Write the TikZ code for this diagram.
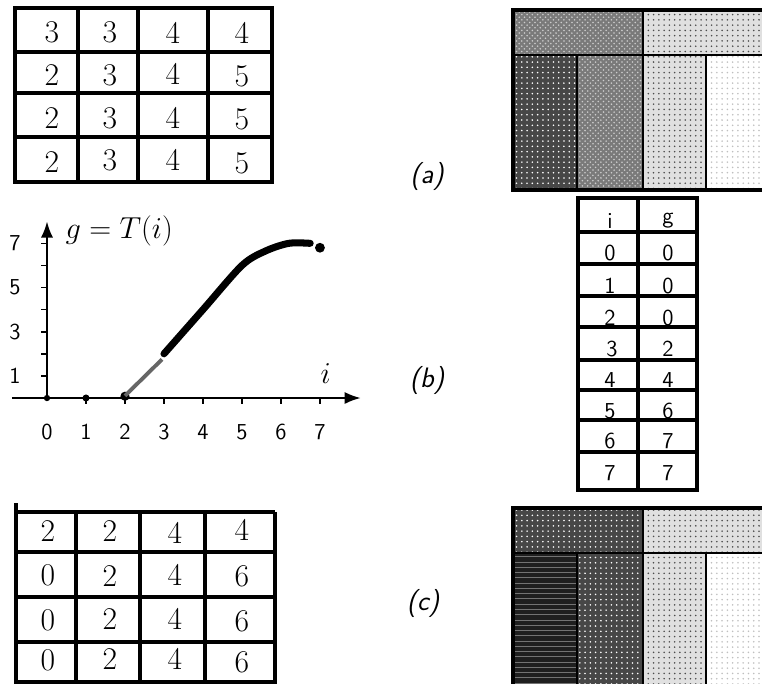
\documentclass[tikz,border=0pt]{standalone}
\usepackage{tikz}
\usetikzlibrary{arrows.meta,positioning,patterns}

\begin{document}
\begin{tikzpicture}[
    x=0.02cm, y=-0.02cm,
    tabline/.style={line width=2pt},
    imgframe/.style={line width=2.4pt},
    sepline/.style={line width=1.4pt},
    num/.style={font=\fontsize{18}{20}\selectfont, inner sep=0pt},
    ignum/.style={font=\sffamily\fontsize{13}{15}\selectfont, inner sep=0pt},
    axlbl/.style={font=\sffamily\fontsize{13}{15}\selectfont, inner sep=0pt},
    figlbl/.style={font=\sffamily\itshape\fontsize{16}{18}\selectfont, inner sep=0pt},
    lv0/.style={fill=black!88, postaction={pattern=horizontal lines, pattern color=black!55}},
    lv2/.style={fill=black!72, postaction={pattern=dots, pattern color=white}},
    lv3/.style={fill=black!52, postaction={pattern=crosshatch dots, pattern color=white!80!black}},
    lv4/.style={fill=black!12, postaction={pattern=dots, pattern color=black!70}},
    lv5/.style={fill=white, postaction={pattern=dots, pattern color=black!25}},
    >=Latex
]
\useasboundingbox (0,0) rectangle (762,684);

% table (a)
\draw[tabline] (15,8) rectangle (272,182);
\draw[tabline] (15,52) -- (272,52);
\draw[tabline] (15,93) -- (272,93);
\draw[tabline] (15,137) -- (272,137);
\draw[tabline] (78,8) -- (78,182);
\draw[tabline] (138,8) -- (138,182);
\draw[tabline] (208,8) -- (208,182);

\node[num] (t11) at (52,32) {3};
\node[num] (t12) at (110,32) {3};
\node[num] (t13) at (173,33) {4};
\node[num] (t14) at (242,33) {4};
\node[num] (t21) at (52,75) {2};
\node[num] (t22) at (110,75) {3};
\node[num] (t23) at (173,74) {4};
\node[num] (t24) at (242,76) {5};
\node[num] (t31) at (52,118) {2};
\node[num] (t32) at (110,118) {3};
\node[num] (t33) at (173,118) {4};
\node[num] (t34) at (242,119) {5};
\node[num] (t41) at (52,162) {2};
\node[num] (t42) at (110,160) {3};
\node[num] (t43) at (173,160) {4};
\node[num] (t44) at (242,163) {5};

% image (a)
\fill[lv3] (513,10) rectangle (643,55);
\fill[lv4] (643,10) rectangle (762,55);
\fill[lv2] (513,55) rectangle (577,190);
\fill[lv3] (577,55) rectangle (643,190);
\fill[lv4] (643,55) rectangle (706,190);
\fill[lv5] (706,55) rectangle (762,190);
\draw[sepline] (513,55) -- (762,55);
\draw[sepline] (577,55) -- (577,190);
\draw[sepline] (643,10) -- (643,190);
\draw[sepline] (706,55) -- (706,190);
\draw[imgframe] (762,10) -- (513,10) -- (513,190) -- (762,190);

\node[figlbl] (la) at (427,176) {(a)};
\node[figlbl] (lb) at (427,380) {(b)};
\node[figlbl] (lc) at (423,603) {(c)};

% graph g = T(i)
\begin{scope}[shift={(47,398)}, x=0.78cm, y=0.442cm]
\coordinate (o) at (0,0);
\coordinate (xend) at (8.05,0);
\coordinate (xbeg) at (-0.9,0);
\coordinate (ybeg) at (0,-0.15);
\coordinate (yend) at (0,8.0);
\draw[line width=1.4pt, ->] (xbeg) -- (xend);
\draw[line width=1.4pt, ->] (ybeg) -- (yend);
\draw[line width=0.9pt] (1,0) -- (1,-0.25) (2,0) -- (2,-0.25) (3,0) -- (3,-0.25) (4,0) -- (4,-0.25)
    (5,0) -- (5,-0.25) (6,0) -- (6,-0.25) (7,0) -- (7,-0.25);
\draw[line width=0.9pt] (-0.15,1) -- (0,1) (-0.15,2) -- (0,2) (-0.15,3) -- (0,3) (-0.15,4) -- (0,4)
    (-0.15,5) -- (0,5) (-0.15,6) -- (0,6) (-0.15,7) -- (0,7);

\node[axlbl] (x0) at (0,-1.55) {0};
\node[axlbl] (x1) at (1,-1.55) {1};
\node[axlbl] (x2) at (2,-1.55) {2};
\node[axlbl] (x3) at (3,-1.55) {3};
\node[axlbl] (x4) at (4,-1.55) {4};
\node[axlbl] (x5) at (5,-1.55) {5};
\node[axlbl] (x6) at (6,-1.55) {6};
\node[axlbl] (x7) at (7,-1.55) {7};
\node[axlbl] (y1) at (-0.82,1) {1};
\node[axlbl] (y3) at (-0.82,3) {3};
\node[axlbl] (y5) at (-0.82,5) {5};
\node[axlbl] (y7) at (-0.82,7) {7};

\node[font=\fontsize{18}{20}\selectfont, inner sep=0pt] (gT) at (1.85,7.55) {$g=T(i)$};
\node[font=\fontsize{16}{18}\selectfont, inner sep=0pt] (il) at (7.15,1.1) {$i$};

\fill (0,0) circle[radius=1.8pt];
\fill (1,0) circle[radius=2pt];
\fill (2,0.08) circle[radius=2.6pt];
\draw[line width=2.2pt, black!60] (2,0.1) -- (2.95,1.75);
\draw[line width=4pt, line cap=round] plot[smooth] coordinates {(3,2) (4,4) (5,6) (5.6,6.65) (6.2,7) (6.75,7)};
\fill (7,6.8) circle[radius=2.8pt];
\end{scope}

% table (b)
\draw[tabline] (578,198) rectangle (697,490);
\draw[line width=2.6pt] (576,490) -- (699,490);
\draw[tabline] (638,198) -- (638,490);
\draw[tabline] (578,232) -- (697,232);
\draw[tabline] (578,264) -- (697,264);
\draw[tabline] (578,296) -- (697,296);
\draw[tabline] (578,327) -- (697,327);
\draw[tabline] (578,360) -- (697,360);
\draw[tabline] (578,390) -- (697,390);
\draw[tabline] (578,420) -- (697,420);
\draw[tabline] (578,452) -- (697,452);

\node[ignum] (ih) at (610,221) {i};
\node[ignum] (gh) at (668,221) {g};
\node[ignum] (i0) at (610,253) {0};
\node[ignum] (g0) at (668,253) {0};
\node[ignum] (i1) at (610,286) {1};
\node[ignum] (g1) at (668,286) {0};
\node[ignum] (i2) at (610,318) {2};
\node[ignum] (g2) at (668,318) {0};
\node[ignum] (i3) at (612,349) {3};
\node[ignum] (g3) at (668,349) {2};
\node[ignum] (i4) at (610,380) {4};
\node[ignum] (g4) at (668,380) {4};
\node[ignum] (i5) at (610,411) {5};
\node[ignum] (g5) at (668,411) {6};
\node[ignum] (i6) at (610,441) {6};
\node[ignum] (g6) at (668,441) {7};
\node[ignum] (i7) at (610,473) {7};
\node[ignum] (g7) at (668,473) {7};

% table (c)
\draw[tabline] (16,512) -- (275,512);
\draw[tabline] (16,503) -- (16,684);
\draw[tabline] (275,512) -- (275,684);
\draw[tabline] (16,552) -- (275,552);
\draw[tabline] (16,597) -- (275,597);
\draw[tabline] (16,642) -- (275,642);
\draw[tabline] (16,682) -- (275,682);
\draw[tabline] (76,512) -- (76,684);
\draw[tabline] (140,512) -- (140,684);
\draw[tabline] (205,512) -- (205,684);

\node[num] (c11) at (48,531) {2};
\node[num] (c12) at (110,531) {2};
\node[num] (c13) at (175,533) {4};
\node[num] (c14) at (242,530) {4};
\node[num] (c21) at (48,575) {0};
\node[num] (c22) at (110,576) {2};
\node[num] (c23) at (175,575) {4};
\node[num] (c24) at (242,576) {6};
\node[num] (c31) at (48,620) {0};
\node[num] (c32) at (110,619) {2};
\node[num] (c33) at (175,619) {4};
\node[num] (c34) at (242,621) {6};
\node[num] (c41) at (48,660) {0};
\node[num] (c42) at (110,659) {2};
\node[num] (c43) at (175,659) {4};
\node[num] (c44) at (242,662) {6};

% image (c)
\fill[lv2] (513,508) rectangle (643,553);
\fill[lv4] (643,508) rectangle (762,553);
\fill[lv0] (513,553) rectangle (577,684);
\fill[lv2] (577,553) rectangle (643,684);
\fill[lv4] (643,553) rectangle (706,684);
\fill[lv5] (706,553) rectangle (762,684);
\draw[sepline] (513,553) -- (762,553);
\draw[sepline] (577,553) -- (577,684);
\draw[sepline] (643,508) -- (643,684);
\draw[sepline] (706,553) -- (706,684);
\draw[imgframe] (762,508) -- (513,508) -- (513,684);

\end{tikzpicture}
\end{document}
